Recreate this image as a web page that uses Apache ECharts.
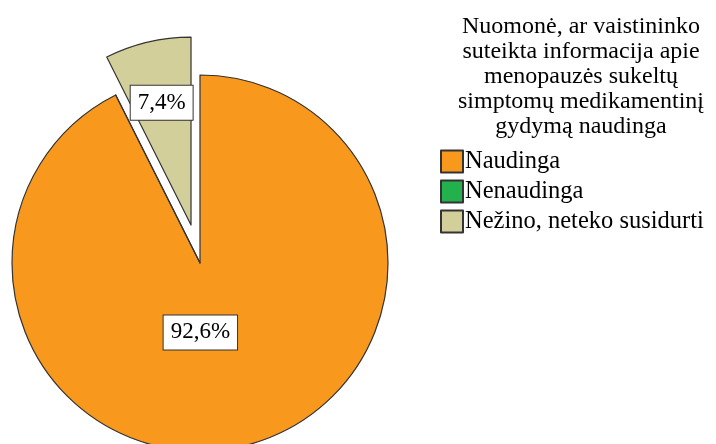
<!DOCTYPE html>
<html>
<head>
<meta charset="utf-8">
<script src="https://cdn.jsdelivr.net/npm/echarts@6/dist/echarts.min.js"></script>
<style>
  html, body { margin: 0; padding: 0; background: #fff; }
  #chart { width: 716px; height: 444px; }
</style>
</head>
<body>
<div id="chart"></div>
<script>
const categories = ["Naudinga", "Nenaudinga", "Nežino, neteko susidurti"]
const percents = [92.6, 0, 7.4]
const colors = ["#F8981D", "#22B14C", "#D3CF9A"]
const exploded = [false, false, true]
const titleText = "Nuomonė, ar vaistininko\nsuteikta informacija apie\nmenopauzės sukeltų\nsimptomų medikamentinį\ngydymą naudinga"

const serif = "'Liberation Serif', 'DejaVu Serif', serif"

const seriesData = categories.map((name, i) => ({
    name: name,
    value: percents[i],
    selected: exploded[i],
    itemStyle: { color: colors[i] },
    label: { show: percents[i] > 0 }
}))

const myChart = echarts.init(document.getElementById("chart"))
myChart.setOption({
    animation: false,
    title: {
        text: titleText,
        left: 576,
        top: 9,
        textAlign: "center",
        textStyle: {
            fontFamily: serif,
            fontSize: 24,
            fontWeight: "normal",
            lineHeight: 25,
            color: "#000"
        }
    },
    legend: {
        orient: "vertical",
        left: 440,
        top: 149,
        padding: 0,
        itemWidth: 22,
        itemHeight: 22,
        itemGap: 5,
        icon: "rect",
        selectedMode: false,
        textStyle: {
            fontFamily: serif,
            fontSize: 24.5,
            lineHeight: 22,
            color: "#000",
            padding: [0, 0, 0, -3]
        },
        data: categories
    },
    series: [{
        type: "pie",
        center: [200, 263],
        radius: 188,
        startAngle: 90,
        clockwise: true,
        selectedMode: "single",
        selectedOffset: 39,
        emphasis: { disabled: true },
        itemStyle: {
            borderColor: "#333",
            borderWidth: 1.2
        },
        label: {
            position: "inside",
            formatter: p => p.value.toFixed(1).replace(".", ",") + "%",
            fontFamily: serif,
            fontSize: 23,
            color: "#000",
            backgroundColor: "#fff",
            borderColor: "#333",
            borderWidth: 1,
            padding: [6, 7, 5, 7]
        },
        labelLine: { show: false },
        // SPSS puts the labels a bit off the midpoint of the slice
        labelLayout: p => p.dataIndex === 0 ? { dx: -22, dy: -25 } : { dx: -7, dy: -28 },
        data: seriesData
    }]
})
</script>
</body>
</html>
